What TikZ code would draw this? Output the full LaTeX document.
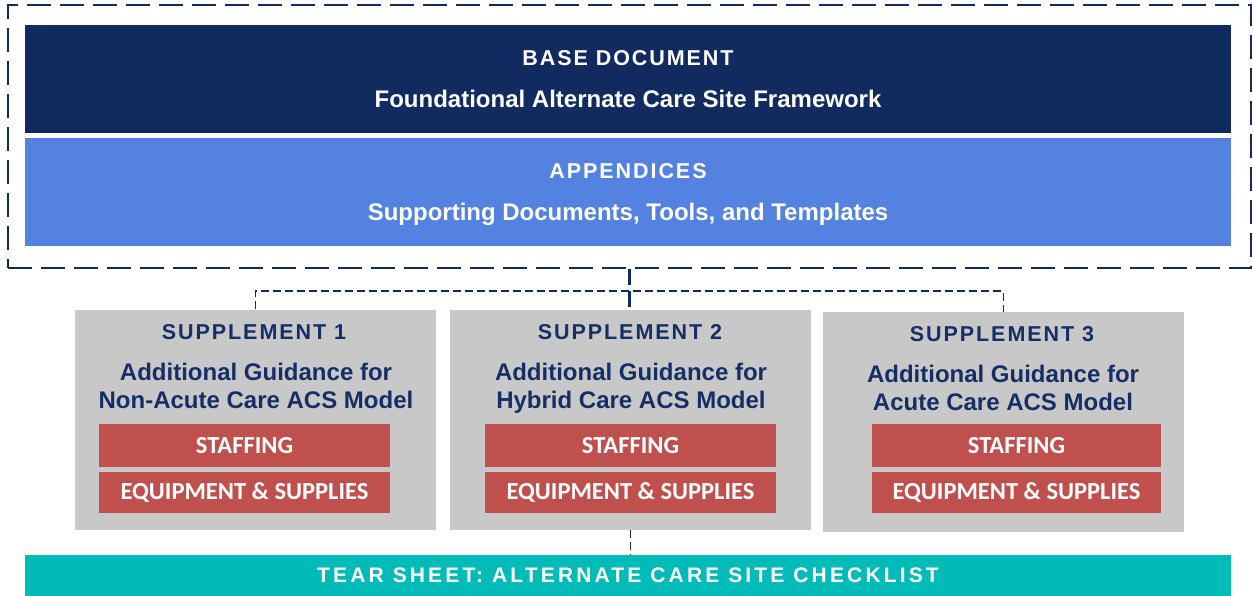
\documentclass[tikz,border=0pt]{standalone}
\usepackage{fontspec}
\setmainfont{Liberation Sans}
\newfontfamily\calib{Carlito}
\newfontfamily\spaced[LetterSpace=9]{Liberation Sans}
\newfontfamily\wide[LetterSpace=15]{Liberation Sans}
\usepackage{xcolor}
\usepackage{tikz}
\usetikzlibrary{positioning}
\definecolor{navyband}{RGB}{17, 43, 96}
\definecolor{blueband}{RGB}{84, 130, 224}
\definecolor{navytext}{RGB}{22, 46, 102}
\definecolor{greybox}{RGB}{200, 200, 200}
\definecolor{redbox}{RGB}{192, 80, 77}
\definecolor{tealband}{RGB}{0, 187, 184}

\begin{document}
\begin{tikzpicture}[x=1pt, y=-1pt,
  band/.style={inner sep=0pt, minimum width=1206pt, text=white, align=center, text depth=0pt, font=\bfseries},
  supbox/.style={fill=greybox, inner sep=0pt, minimum width=361pt, minimum height=220pt},
  suptitle/.style={text=navytext, font=\spaced\bfseries\fontsize{21.5}{26}\selectfont},
  guide/.style={text=navytext, align=center, text depth=0pt, font=\bfseries\fontsize{24}{28}\selectfont},
  tag/.style={fill=redbox, text=white, inner sep=0pt, minimum width=291pt, font=\calib\bfseries\fontsize{24.5}{28}\selectfont},
  link/.style={navyband, dashed, dash pattern=on 8pt off 4pt, line width=1.2pt}]
\useasboundingbox (0,0) rectangle (1253,596);
% outer frame round base document and appendices
\node[draw=navyband, line width=2.6pt, dash pattern=on 24pt off 9pt, inner sep=0pt,
  minimum width=1243pt, minimum height=263pt] (frame) at (629.5,136.5) {};
\node[band, fill=navyband, minimum height=108pt] (base) at (628,79)
  {{\spaced\fontsize{21.5}{26}\selectfont BASE DOCUMENT}\\[24pt]{\fontsize{24}{29}\selectfont Foundational Alternate Care Site Framework}};
\node[band, fill=blueband, minimum height=108pt] (app) at (628,192)
  {{\spaced\fontsize{21.5}{26}\selectfont APPENDICES}\\[24pt]{\fontsize{24}{29}\selectfont Supporting Documents, Tools, and Templates}};
% supplements
\node[supbox] (s1) at (255.5,419.5) {};
\node[supbox] (s2) at (630.5,420) {};
\node[supbox] (s3) at (1003.5,422) {};
\node[suptitle] (t1) at (254,332) {SUPPLEMENT 1};
\node[suptitle] (t2) at (630,332) {SUPPLEMENT 2};
\node[suptitle] (t3) at (1002,334) {SUPPLEMENT 3};
\node[guide] (g1) at (256,386) {Additional Guidance for\\Non-Acute Care ACS Model};
\node[guide] (g2) at (631,386) {Additional Guidance for\\Hybrid Care ACS Model};
\node[guide] (g3) at (1003,388) {Additional Guidance for\\Acute Care ACS Model};
\node[tag, minimum height=43pt] (st1) at (244.5,445.5) {STAFFING};
\node[tag, minimum height=41pt] (eq1) at (244.5,492.5) {EQUIPMENT \& SUPPLIES};
\node[tag, minimum height=43pt] (st2) at (630.5,445.5) {STAFFING};
\node[tag, minimum height=41pt] (eq2) at (630.5,492.5) {EQUIPMENT \& SUPPLIES};
\node[tag, minimum height=43pt, minimum width=289pt] (st3) at (1016.5,445.5) {STAFFING};
\node[tag, minimum height=41pt, minimum width=289pt] (eq3) at (1016.5,492.5) {EQUIPMENT \& SUPPLIES};
% tear sheet
\node[band, fill=tealband, minimum height=41pt, font=\wide\bfseries\fontsize{21}{25}\selectfont] (tear) at (628,575.5)
  {TEAR SHEET: ALTERNATE CARE SITE CHECKLIST};
% connectors
\coordinate (hub) at (631,291);
\draw[navyband, line width=2.6pt, dash pattern=on 16pt off 6pt] (frame.south) -- (frame.south |- s2.north);
\draw[link] (s1.north) |- (hub) -| (s3.north);
\draw[link] (s2.south) -- (s2.south |- tear.north);
\end{tikzpicture}
\end{document}
